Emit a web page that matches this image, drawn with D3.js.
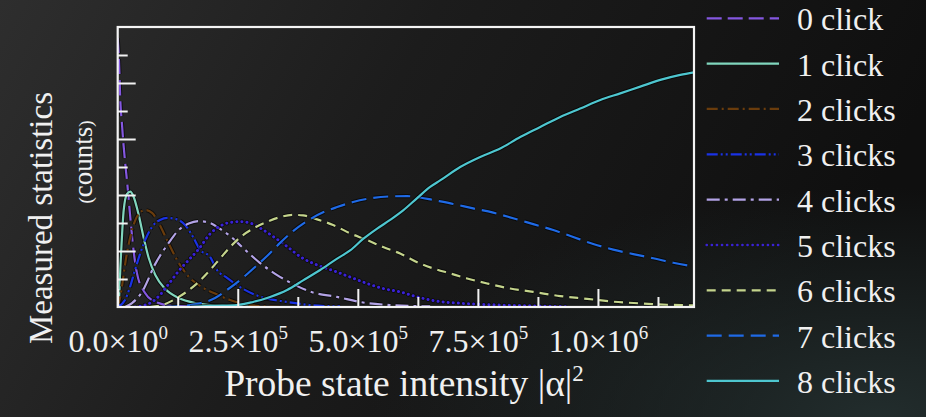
<!DOCTYPE html>
<html>
<head>
<meta charset="utf-8">
<script src="https://cdn.jsdelivr.net/npm/d3@7"></script>
<style>
  html, body { margin: 0; padding: 0; background: #1b1b1b; }
  #chart { width: 926px; height: 417px; }
  text { font-family: "Liberation Serif", "DejaVu Serif", serif; fill: #f0f0f0; }
</style>
</head>
<body>
<div id="chart"></div>
<script>
// measured click statistics vs probe intensity |alpha|^2 (counts in arbitrary units, 1 per y tick)
var click0 = [[0, 9.6], [2700, 8.8], [5400, 7.4], [9000, 6.5], [12100, 5.8], [15800, 5.1], [19400, 4.5],
  [26200, 3.2], [31200, 2.3], [40200, 1.2], [57000, 0.5], [78000, 0.19], [109000, 0.05], [171000, 0]];
var click1 = [[0, 0], [2100, 0.14], [5800, 1.5], [7900, 2.2], [12500, 3.46], [19400, 4.04], [26200, 4.12],
  [33300, 3.93], [43700, 3.29], [54200, 2.46], [64600, 1.75], [78300, 1.14], [99200, 0.64], [127000, 0.32],
  [161700, 0.14], [217000, 0.04], [296000, 0]];
var click2 = [[0, 0], [5400, 0.36], [10000, 0.86], [15800, 1.57], [26200, 2.5], [36700, 3.1], [47100, 3.39],
  [57500, 3.46], [71500, 3.36], [85400, 3.0], [102700, 2.39], [123500, 1.68], [147900, 1.08], [175600, 0.71],
  [202700, 0.48], [234000, 0.25], [275600, 0.07], [338000, 0]];
var click3 = [[0, 0], [15200, 0.25], [25600, 0.71], [36000, 1.32], [46500, 1.89], [59000, 2.46], [71500, 2.86],
  [88100, 3.11], [104800, 3.18], [121500, 3.14], [140200, 2.93], [156900, 2.5], [171500, 2.04], [192300, 1.79],
  [206900, 1.32], [227700, 1.04], [254800, 0.71], [296500, 0.37], [352700, 0.18], [400600, 0.07], [463000, 0.02]];
var click4 = [[15200, 0], [29800, 0.14], [50600, 0.54], [78300, 1.54], [106200, 2.29], [127100, 2.75],
  [147900, 2.98], [168700, 3.07], [192300, 3.0], [213100, 2.79], [233900, 2.54], [261000, 2.11], [296500, 1.57],
  [331900, 1.14], [365200, 0.82], [400600, 0.55], [456900, 0.36], [511000, 0.16], [567300, 0.07], [650600, 0.02]];
var click5 = [[36000, 0], [56900, 0.07], [71500, 0.18], [88100, 0.43], [106200, 0.82], [127100, 1.29],
  [147900, 1.68], [168700, 2.07], [192300, 2.61], [213100, 2.89], [233900, 3.02], [254800, 3.05], [275600, 3.0],
  [296500, 2.82], [323500, 2.52], [352700, 2.16], [379800, 1.8], [415200, 1.5], [448500, 1.3], [483900, 1.07],
  [519400, 0.84], [552700, 0.66], [588100, 0.54], [623500, 0.36], [656900, 0.23], [727700, 0.12], [796500, 0.07],
  [865200, 0.04], [936000, 0.01]];
var click6 = [[67300, 0], [92300, 0.07], [127100, 0.36], [161700, 0.79], [192300, 1.32], [213100, 1.73],
  [233900, 2.14], [261000, 2.57], [281900, 2.8], [311000, 3.04], [338100, 3.21], [365200, 3.29], [386000, 3.27],
  [415200, 3.13], [448500, 2.93], [483900, 2.63], [519400, 2.39], [552700, 2.14], [588100, 1.91], [629800, 1.55],
  [656900, 1.38], [692300, 1.2], [727700, 1.02], [769400, 0.84], [817300, 0.66], [865200, 0.54], [921500, 0.39],
  [977700, 0.29], [1031900, 0.19], [1088100, 0.13], [1144400, 0.08], [1200000, 0.06]];
var click7 = [[98500, 0], [123500, 0.02], [171500, 0.13], [202700, 0.32], [227700, 0.61], [261000, 1.05],
  [286000, 1.43], [311000, 1.82], [338100, 2.29], [365200, 2.71], [394400, 3.07], [427700, 3.38], [456900, 3.57],
  [490200, 3.75], [525600, 3.88], [567300, 3.95], [602700, 3.96], [629800, 3.91], [656900, 3.82], [698600, 3.68],
  [740200, 3.52], [781900, 3.37], [823500, 3.17], [865200, 2.96], [906900, 2.75], [948500, 2.5], [990200, 2.25],
  [1031900, 2.05], [1073500, 1.89], [1115200, 1.74], [1156900, 1.58], [1200000, 1.44]];
var click8 = [[150600, 0], [192300, 0.04], [248500, 0.07], [281900, 0.18], [317300, 0.36], [352700, 0.61],
  [386000, 0.95], [421500, 1.32], [456900, 1.73], [483900, 2.02], [511000, 2.43], [540200, 2.8], [567300, 3.11],
  [594400, 3.45], [623500, 3.89], [650600, 4.29], [671400, 4.52], [713100, 5.0], [754800, 5.36], [796500, 5.66],
  [838100, 6.07], [879800, 6.43], [921500, 6.79], [963100, 7.09], [1004800, 7.39], [1046500, 7.63],
  [1088100, 7.87], [1129800, 8.11], [1171500, 8.29], [1200000, 8.38]];

var seriesNames = ["0 click", "1 click", "2 clicks", "3 clicks", "4 clicks", "5 clicks", "6 clicks", "7 clicks", "8 clicks"];
var xMajorTicks = [0, 250000, 500000, 750000, 1000000];
var xMinorTicks = [125000, 375000, 625000, 875000, 1125000];
var yMajorTicks = [2, 4, 6, 8];
var yMinorTicks = [1, 3, 5, 7, 9];

window.addEventListener('DOMContentLoaded', function () {

  var seriesData = [click0, click1, click2, click3, click4, click5, click6, click7, click8];
  var colors = ["#8457e0", "#80d6bd", "#6a3c0c", "#1a32e6", "#b3a3e6", "#3a22d6", "#c4d48c", "#1f6ae6", "#4ec6cf"];
  var dashes = ["15,6", null, "11,4,2,4", "11,3,2,3,2,3", "13,5,3,5", "0.1,5", "9,6", "15,7", null];

  // set the dimensions and margins of the graph
  var margin = {
      top: 27,
      right: 232,
      bottom: 110,
      left: 117.7
    },
    width = 926 - margin.left - margin.right,
    height = 417 - margin.top - margin.bottom;

  var x = d3.scaleLinear().domain([0, 1200000]).range([0, width]);
  var y = d3.scaleLinear().domain([0, 10]).range([height, 0]);

  var svgRoot = d3.select("#chart").append("svg")
    .attr("width", 926)
    .attr("height", 417);

  // dark background with soft gradient
  var defs = svgRoot.append("defs");
  var bg = defs.append("linearGradient").attr("id", "bg")
    .attr("x1", 0).attr("y1", 0).attr("x2", 1).attr("y2", 0.25);
  bg.append("stop").attr("offset", "0%").attr("stop-color", "#2e2e2e");
  bg.append("stop").attr("offset", "45%").attr("stop-color", "#1c1c1c");
  bg.append("stop").attr("offset", "100%").attr("stop-color", "#0f0f0f");
  var glow = defs.append("radialGradient").attr("id", "glow")
    .attr("cx", 0.95).attr("cy", 1).attr("r", 0.55);
  glow.append("stop").attr("offset", "0%").attr("stop-color", "#243030").attr("stop-opacity", 0.9);
  glow.append("stop").attr("offset", "100%").attr("stop-color", "#243030").attr("stop-opacity", 0);
  defs.append("clipPath").attr("id", "plotclip")
    .append("rect").attr("width", width).attr("height", height);

  svgRoot.append("rect").attr("width", 926).attr("height", 417).attr("fill", "url(#bg)");
  svgRoot.append("rect").attr("width", 926).attr("height", 417).attr("fill", "url(#glow)");

  var svg = svgRoot.append("g")
    .attr("transform", "translate(" + margin.left + "," + margin.top + ")");

  // define the line
  var valueline = d3.line()
    .x(function (d) { return x(d[0]); })
    .y(function (d) { return y(d[1]); })
    .curve(d3.curveMonotoneX);

  var plot = svg.append("g").attr("clip-path", "url(#plotclip)");

  seriesData.forEach(function (data, i) {
    var cap = i === 5 ? "round" : "butt";
    // dark outline under each curve
    plot.append("path")
      .datum(data)
      .attr("d", valueline)
      .attr("fill", "none")
      .attr("stroke", "#000")
      .attr("stroke-opacity", 0.6)
      .attr("stroke-width", i === 5 ? 4.6 : 4.2)
      .attr("stroke-linecap", cap)
      .attr("stroke-dasharray", dashes[i]);
    plot.append("path")
      .datum(data)
      .attr("d", valueline)
      .attr("fill", "none")
      .attr("stroke", colors[i])
      .attr("stroke-width", i === 5 ? 3 : 2.2)
      .attr("stroke-linecap", cap)
      .attr("stroke-dasharray", dashes[i]);
  });

  // axes with ticks pointing inwards
  function supFormat(v) {
    var e = v === 0 ? 0 : Math.floor(Math.log10(v));
    return [(v / Math.pow(10, e)).toFixed(1), e];
  }

  var xMajor = svg.append("g")
    .attr("transform", "translate(0," + height + ")")
    .call(d3.axisBottom(x).tickValues(xMajorTicks).tickSizeInner(-18).tickSizeOuter(0).tickPadding(45));
  var xMinor = svg.append("g")
    .attr("transform", "translate(0," + height + ")")
    .call(d3.axisBottom(x).tickValues(xMinorTicks).tickSizeInner(-10).tickSizeOuter(0).tickFormat(""));
  var yMajor = svg.append("g")
    .call(d3.axisLeft(y).tickValues(yMajorTicks).tickSizeInner(-18).tickSizeOuter(0).tickFormat(""));
  var yMinor = svg.append("g")
    .call(d3.axisLeft(y).tickValues(yMinorTicks).tickSizeInner(-10).tickSizeOuter(0).tickFormat(""));

  [xMajor, xMinor, yMajor, yMinor].forEach(function (g) {
    g.select(".domain").remove();
    g.selectAll(".tick line").attr("stroke", "#f2f2f2").attr("stroke-width", 2);
  });

  xMajor.selectAll(".tick text")
    .attr("dy", null)
    .attr("y", 45)
    .attr("font-size", 32)
    .attr("font-family", null)
    .attr("fill", "#f0f0f0")
    .each(function (v) {
      var parts = supFormat(v);
      var t = d3.select(this).text(null);
      t.append("tspan").text(parts[0] + "\u00d710");
      t.append("tspan").attr("dy", -13).attr("font-size", 19).text(parts[1]);
    });

  // frame
  svg.append("rect")
    .attr("width", width)
    .attr("height", height)
    .attr("fill", "none")
    .attr("stroke", "#f4f4f4")
    .attr("stroke-width", 2.2);

  // axis titles
  var xt = svgRoot.append("text")
    .attr("x", 404)
    .attr("y", 396)
    .attr("text-anchor", "middle")
    .attr("font-size", 37.5);
  xt.append("tspan").text("Probe state intensity |\u03b1|");
  xt.append("tspan").attr("dy", -15).attr("font-size", 23).text("2");

  svgRoot.append("text")
    .attr("transform", "translate(52,218) rotate(-90)")
    .attr("text-anchor", "middle")
    .attr("font-size", 33)
    .text("Measured statistics");

  var yt2 = svgRoot.append("text")
    .attr("transform", "translate(92,162) rotate(-90)")
    .attr("text-anchor", "middle")
    .attr("font-size", 27);
  yt2.append("tspan").attr("font-size", 19).text("(");
  yt2.append("tspan").text("counts");
  yt2.append("tspan").attr("font-size", 19).text(")");

  // legend
  var legend = svgRoot.append("g");
  seriesNames.forEach(function (name, i) {
    var by = 30.3 + i * 45.33;
    legend.append("line")
      .attr("x1", 706.7).attr("x2", 779)
      .attr("y1", by - 12).attr("y2", by - 12)
      .attr("stroke", colors[i])
      .attr("stroke-width", i === 5 ? 2.6 : 2.2)
      .attr("stroke-linecap", i === 5 ? "round" : "butt")
      .attr("stroke-dasharray", dashes[i]);
    legend.append("text")
      .attr("x", 797)
      .attr("y", by)
      .attr("font-size", 32)
      .text(name);
  });
});
</script>
</body>
</html>
